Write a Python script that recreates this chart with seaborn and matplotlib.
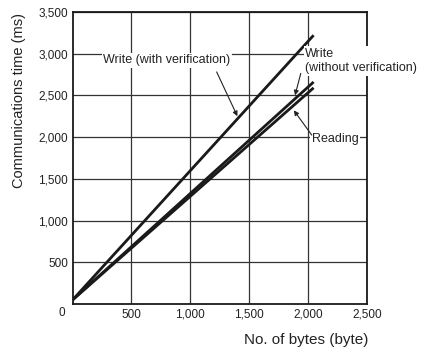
import matplotlib
matplotlib.use("Agg")
import matplotlib.pyplot as plt
import seaborn as sns
import pandas as pd

# ---- data ----
n_bytes = [0, 2048]
write_with_verif = [50, 3220]
write_without_verif = [50, 2660]
reading = [50, 2590]
series_names = ["Write (with verification)", "Write (without verification)", "Reading"]

x_ticks = [500, 1000, 1500, 2000, 2500]
y_ticks = [500, 1000, 1500, 2000, 2500, 3000, 3500]
x_label = "No. of bytes (byte)"
y_label = "Communications time (ms)"

sns.set_theme(style="white")
plt.rcParams["font.family"] = ["Liberation Sans", "DejaVu Sans"]

df = pd.DataFrame({
    "bytes": n_bytes * 3,
    "time": write_with_verif + write_without_verif + reading,
    "series": [s for s in series_names for _ in n_bytes],
})

fig = plt.figure(figsize=(4.30, 3.49), dpi=100)
ax = fig.add_axes([0.169, 0.129, 0.684, 0.837])

sns.lineplot(data=df, x="bytes", y="time", hue="series", hue_order=series_names,
             palette=["#1a1a1a"] * 3, linewidth=2.0, legend=False, ax=ax,
             solid_capstyle="butt", zorder=3)

ax.set_xlim(0, 2500)
ax.set_ylim(0, 3500)
ax.set_xticks(x_ticks)
ax.set_xticklabels([f"{v:,}" for v in x_ticks])
ax.set_yticks(y_ticks)
ax.set_yticklabels([f"{v:,}" for v in y_ticks])
ax.tick_params(axis="both", length=0, labelsize=8.5, colors="#222")
ax.tick_params(axis="x", pad=3.5)
ax.tick_params(axis="y", pad=3.4)
ax.grid(True, color="#333333", linewidth=0.9)
ax.set_axisbelow(True)
for sp in ax.spines.values():
    sp.set_color("#1a1a1a")
    sp.set_linewidth(1.3)

ax.set_xlabel(x_label, fontsize=11, color="#222")
ax.xaxis.set_label_coords(0.795, -0.100)
ax.set_ylabel(y_label, fontsize=10.5, color="#222")
ax.yaxis.set_label_coords(-0.157, 0.698)

ax.text(-0.037, -0.031, "0", transform=ax.transAxes, ha="center", va="center",
        fontsize=8.5, color="#222")

box = dict(boxstyle="square,pad=0.12", fc="white", ec="none")
ax.text(258, 2922, "Write (with verification)", ha="left", va="center",
        fontsize=9, color="#222", bbox=box, zorder=4)
ax.text(1977, 2913, "Write\n(without verification)", ha="left", va="center",
        fontsize=9, color="#222", linespacing=1.3, bbox=box, zorder=4)
ax.text(2032, 1976, "Reading", ha="left", va="center",
        fontsize=9, color="#222", bbox=box, zorder=4)

arrow = dict(arrowstyle="-|>", color="#222", lw=0.8, mutation_scale=7,
             shrinkA=0, shrinkB=0)
ax.annotate("", xy=(1400, 2250), xytext=(1224, 2780), arrowprops=arrow, zorder=5)
ax.annotate("", xy=(1890, 2500), xytext=(1939, 2763), arrowprops=arrow, zorder=5)
ax.annotate("", xy=(1880, 2320), xytext=(2032, 2024), arrowprops=arrow, zorder=5)

fig.savefig("out.png", dpi=100)
